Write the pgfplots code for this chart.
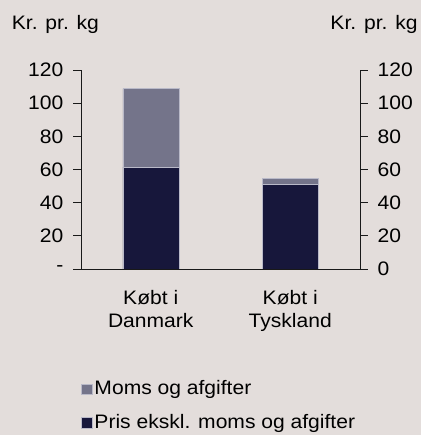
\documentclass[border=0pt]{standalone}
\usepackage{fontspec}
\setmainfont{Liberation Sans}[FakeStretch=1.08]
\usepackage{pgfplots}
\pgfplotsset{compat=1.18}
\definecolor{bg}{RGB}{227,221,219}
\definecolor{navy}{RGB}{23,23,59}
\definecolor{moms}{RGB}{116,116,138}
\definecolor{axisc}{RGB}{25,25,25}
\definecolor{edge}{RGB}{185,185,200}
\newcommand{\F}{\fontsize{19.5bp}{22.5bp}\selectfont}
\pgfplotsset{
  sqlegend/.style={legend image code/.code={\fill[##1] (0bp,-5.3bp) rectangle (10.7bp,5.3bp);}},
  base/.style={
    scale only axis, width=279bp, height=199bp,
    at={(81bp,166bp)}, anchor=south west,
    xmin=-0.5, xmax=1.5, ymin=0, ymax=120,
    axis line style={axisc, line width=0.9pt},
    tick style={axisc, line width=0.9pt},
    tick align=outside, major tick length=7.5bp,
    ytick={0,20,...,120},
    tick label style={font=\F},
    /pgf/number format/assume math mode=true,
  }
}
\begin{document}
\F
\begin{tikzpicture}
\fill[bg] (0,0) rectangle (421bp,435bp);
\useasboundingbox (0,0) rectangle (421bp,435bp);
\begin{axis}[base,
  axis y line*=left, axis x line*=bottom,
  ybar stacked, bar width=56bp,
  xtick={0,1}, xticklabels={{Købt i\\Danmark},{Købt i\\Tyskland}},
  xticklabel style={align=center, inner sep=0pt, yshift=-14bp},
  x tick style={draw=none},
  yticklabels={-,20,40,60,80,100,120},
  yticklabel style={inner sep=0pt, xshift=-10bp},
  reverse legend,
  legend style={at={(0,-0.55)}, anchor=north west, draw=none, fill=none, font=\F,
    inner sep=0pt, row sep=12bp, nodes={inner sep=2.2bp}},
  legend cell align=left,
]
\addplot[fill=navy, draw=edge, line width=0.4bp, sqlegend] coordinates {(0,61.5) (1,51)};
\addplot[fill=moms, draw=edge, line width=0.4bp, sqlegend] coordinates {(0,47.3) (1,3.5)};
\legend{Pris ekskl. moms og afgifter, Moms og afgifter}
\end{axis}
\begin{axis}[base,
  axis y line*=right, hide x axis,
  yticklabel style={inner sep=0pt, xshift=10bp},
]
\addplot[draw=none] coordinates {(0,0)};
\end{axis}
\node[anchor=base west, inner sep=0pt, font=\F] at (11.7bp,405bp) {Kr. pr. kg};
\node[anchor=base east, inner sep=0pt, font=\F] at (417.7bp,405bp) {Kr. pr. kg};
\end{tikzpicture}
\end{document}
